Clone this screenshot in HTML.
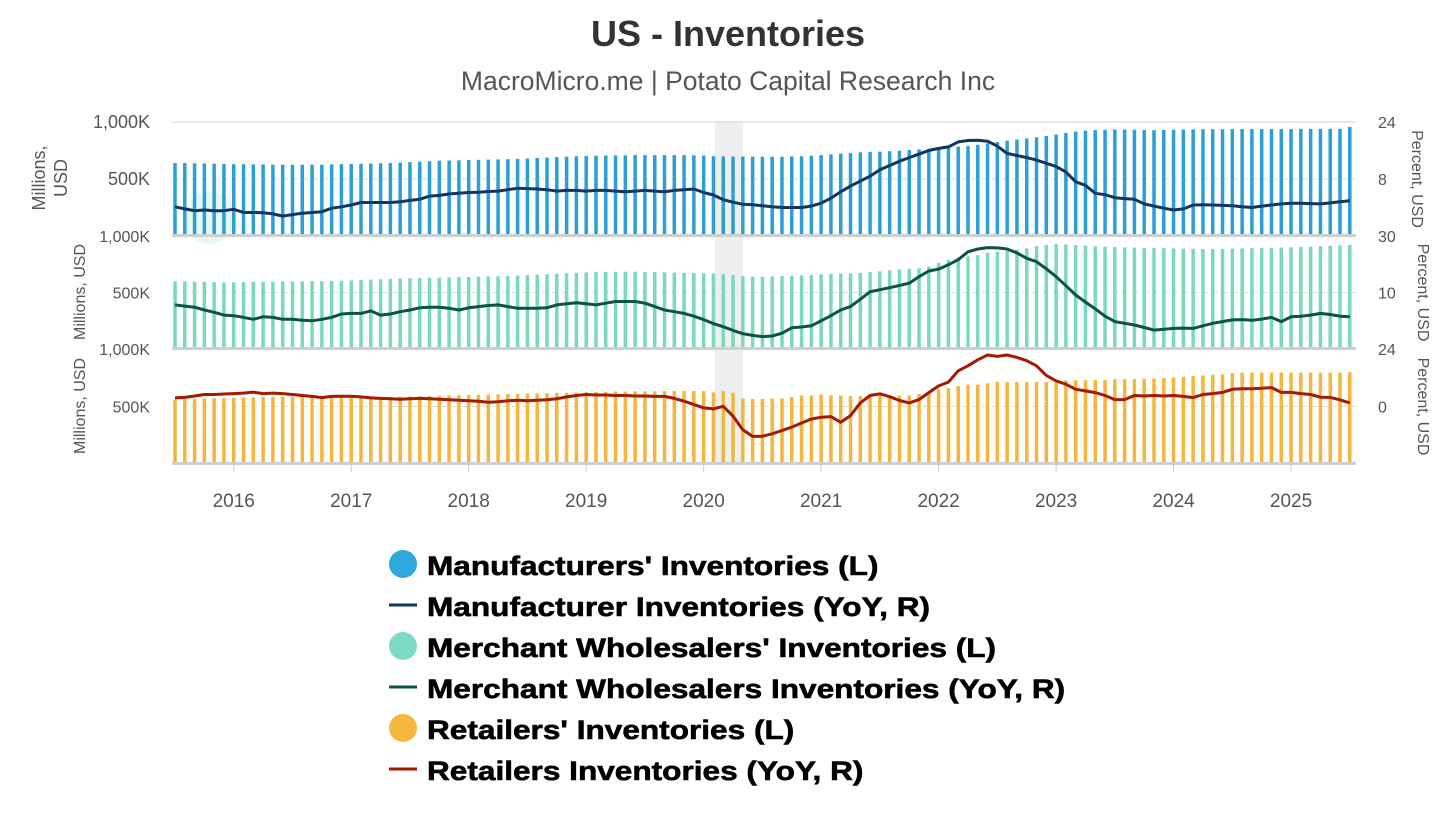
<!DOCTYPE html>
<html><head><meta charset="utf-8">
<style>
html,body{margin:0;padding:0;background:#fff;}
body{width:1456px;height:819px;overflow:hidden;font-family:"Liberation Sans",sans-serif;}
svg text{font-family:"Liberation Sans",sans-serif;}
</style></head>
<body>
<svg id="chart" width="1456" height="819" viewBox="0 0 1456 819" xmlns="http://www.w3.org/2000/svg">
  <text x="728" y="46" text-anchor="middle" font-size="36" font-weight="bold" fill="#333">US - Inventories</text>
  <text x="728" y="90" text-anchor="middle" font-size="26.5" fill="#555">MacroMicro.me | Potato Capital Research Inc</text>
  <rect x="715" y="122" width="28" height="342" fill="#efefef"/>
  <circle cx="210" cy="218" r="26" fill="#dff6ef" opacity="0.8"/>
  <g id="grid"></g>
  <g id="bars"></g>
  <g id="lines"></g>
  <g id="axes"></g>
  <g id="legend"></g>
</svg>
<script>
const years = ["2016","2017","2018","2019","2020","2021","2022","2023","2024","2025"];
const manufBars = [640,640,638,636,634,632,630,630,628,628,626,626,
626,626,626,626,628,630,632,634,636,638,640,644,
648,652,656,660,662,664,666,668,670,672,674,676,
680,684,688,692,696,700,702,704,706,708,708,710,
710,710,710,710,710,708,706,700,698,696,696,696,
696,696,696,698,700,704,710,716,722,728,734,738,
740,744,748,754,760,766,772,778,784,790,800,812,
824,836,846,856,866,878,890,904,916,924,930,932,
934,934,932,930,928,930,932,934,936,936,936,936,
938,938,938,938,938,938,938,940,940,940,940,940,956];
const manufYoY = [0.2,-0.4,-0.9,-0.7,-0.9,-0.9,-0.5,-1.4,-1.4,-1.5,-1.8,-2.4,
-2,-1.6,-1.4,-1.2,-0.2,0.2,0.7,1.4,1.4,1.4,1.4,1.6,
2,2.3,3.2,3.4,3.8,4,4.2,4.3,4.5,4.6,5,5.4,
5.3,5.2,5,4.6,4.8,4.8,4.6,4.8,4.8,4.6,4.4,4.6,
4.8,4.6,4.4,4.8,5,5.2,4.2,3.5,2.2,1.5,0.9,0.8,
0.5,0.2,0,0,0,0.4,1.2,2.6,4.4,6,7.4,8.8,
10.6,11.8,13,14,15,16,16.6,17,18.4,18.8,18.9,18.6,
17.2,15.2,14.6,14,13.3,12.4,11.5,10,7.2,6.2,4.0,3.6,
2.75,2.5,2.3,1.0,0.4,-0.2,-0.7,-0.4,0.7,0.8,0.7,0.6,
0.5,0.2,0,0.4,0.7,1,1.2,1.2,1.1,1,1.3,1.6,1.9];
const wholeBars = [600,598,596,594,592,590,590,592,594,596,596,598,
598,598,600,600,602,604,606,610,614,618,620,624,
626,628,630,632,634,636,638,640,642,644,646,650,
654,658,662,666,670,674,678,680,682,684,684,684,
682,680,678,676,674,672,670,668,664,655,645,640,
640,642,645,648,652,655,660,664,668,670,672,680,
688,696,704,710,714,730,760,790,810,820,830,850,
860,870,880,891,910,920,927,925,920,915,910,905,
903,900,898,896,894,892,890,888,886,885,885,885,
888,890,892,894,896,898,900,902,906,910,914,918,920];
const wholeYoY = [5.6,5.2,4.8,3.8,3,2,1.8,1.2,0.5,1.4,1.2,0.5,
0.5,0.2,0,0.5,1.2,2.4,2.6,2.6,3.5,2,2.4,3.2,
3.8,4.6,4.8,4.8,4.4,3.8,4.6,5,5.4,5.6,5,4.4,
4.4,4.4,4.6,5.6,6,6.4,6,5.6,6.2,6.8,6.8,6.8,
6.2,5,3.8,3.2,2.6,1.6,0.4,-1,-2.1,-3.4,-4.6,-5.2,
-5.6,-5.4,-4.4,-2.5,-2.2,-1.8,0,1.8,3.8,5,7.6,10.3,
11,11.7,12.5,13.3,15.6,17.6,18.3,19.8,21.6,24.4,25.4,25.9,
25.8,25.4,24,22.1,20.9,18.4,15.6,12.4,9.1,6.6,4.2,1.6,
-0.3,-0.9,-1.5,-2.4,-3.3,-3,-2.7,-2.6,-2.7,-1.8,-0.9,-0.3,
0.3,0.4,0.2,0.6,1.2,-0.3,1.4,1.6,2,2.6,2.2,1.6,1.4];
const retailBars = [561,565,568,570,572,574,576,578,580,582,584,585,
585,585,585,584,582,580,580,580,580,582,584,586,
588,590,592,594,596,598,600,602,604,606,608,610,
612,614,616,618,620,622,624,626,628,630,630,632,
632,632,634,634,634,634,634,623,634,619,570,565,
565,570,570,582,596,596,604,596,596,590,590,602,
602,594,596,596,608,630,649,660,678,690,690,702,
713,713,713,713,713,713,708,728,728,728,730,732,
737,738,740,742,744,748,752,758,764,770,776,780,
790,794,795,795,795,795,795,795,795,795,795,795,798];
const retailYoY = [3.6,3.8,4.4,5,5,5.2,5.4,5.6,6,5.4,5.6,5.4,
5,4.6,4.2,3.7,4.2,4.3,4.3,4,3.6,3.4,3.2,3,
3.2,3.4,3.2,3,2.8,2.6,2.4,2.2,1.8,2,2.4,2.6,
2.4,2.6,2.8,3.2,4,4.6,5,4.8,4.8,4.6,4.6,4.4,
4.4,4.2,4.2,3.4,2.2,0.8,-0.6,-1,0.1,-4,-9.7,-12.5,
-12.4,-11.4,-10,-8.6,-6.9,-5.2,-4.5,-4.2,-6.6,-3.8,1.5,4.6,
5.3,4.1,2.5,1.5,2.9,5.8,8.6,10.2,14.9,17,19.5,21.5,
20.9,21.5,20.5,19.1,17,13,10.7,9.3,7.2,6.5,5.8,4.6,
2.9,2.9,4.6,4.4,4.6,4.4,4.6,4.2,3.7,5,5.4,5.9,
7.2,7.4,7.4,7.6,7.9,5.9,5.9,5.4,5,3.9,3.8,2.8,1.5];
const leftTicks = ["1,000K","500K"];
const rightTicks1 = ["24","8"];
const rightTicks2 = ["30","10"];
const rightTicks3 = ["24","0"];

const NS = "http://www.w3.org/2000/svg";
function mk(tag, attrs, parent){const e=document.createElementNS(NS,tag);for(const k in attrs)e.setAttribute(k,attrs[k]);parent.appendChild(e);return e;}
const X0=175, DX=9.79, PL=172, PR=1356;
function xAt(i){return X0+i*DX;}
function yearX(y){return X0+(parseInt(y,10)-2015.5)*12*DX;}
const panels=[
 {top:122,bot:236,rmin:-8,rmax:24,bars:manufBars,yoy:manufYoY,bc:"#2b9fd6",lc:"#0f3560",rt:rightTicks1,rv:[24,8],name:"manufacturers"},
 {top:236,bot:349,rmin:-10,rmax:30,bars:wholeBars,yoy:wholeYoY,bc:"#7ad8bf",lc:"#0a5443",rt:rightTicks2,rv:[30,10],name:"wholesalers"},
 {top:349,bot:464,rmin:-24,rmax:24,bars:retailBars,yoy:retailYoY,bc:"#f4b73b",lc:"#a31a00",rt:rightTicks3,rv:[24,0],name:"retailers"}
];
const grid=document.getElementById('grid'),bars=document.getElementById('bars'),lines=document.getElementById('lines'),axes=document.getElementById('axes');
panels.forEach((p,pi)=>{
  const yL=v=>p.bot-(v/1000)*(p.bot-p.top);
  const yR=v=>p.bot-(v-p.rmin)/(p.rmax-p.rmin)*(p.bot-p.top);
  if(pi===0){const g=mk('line',{x1:PL,x2:PR,y1:p.top,y2:p.top,stroke:"#e0e0e0","stroke-width":1.5},grid);
    
    }
  const gm=mk('line',{x1:PL,x2:PR,y1:yL(500),y2:yL(500),stroke:"#dddddd","stroke-width":1,"stroke-dasharray":"6,4"},grid);
  
  
  p.bars.forEach((v,i)=>{
    const y=yL(v);
    const r=mk('rect',{x:xAt(i)-1.75,y:y,width:3.5,height:p.bot-y,fill:p.bc},bars);
    
    
  });
  const base=mk('rect',{x:PL,y:p.bot-2,width:PR-PL,height:3,fill:"#cfcfcf"},axes);
  
  
  const d=p.yoy.map((v,i)=>(i?'L':'M')+xAt(i).toFixed(1)+' '+yR(v).toFixed(1)).join(' ');
  const path=mk('path',{d:d,fill:"none",stroke:p.lc,"stroke-width":3,"stroke-linejoin":"round"},lines);
  
  
  leftTicks.forEach((t,k)=>{
    const v=k===0?1000:500;
    const tx=mk('text',{x:150,y:yL(v)+6,"text-anchor":"end","font-size":pi===0?18:16,fill:"#555"},axes);
    tx.textContent=t;
    
    
  });
  p.rt.forEach((t,k)=>{
    const tx=mk('text',{x:1378,y:yR(p.rv[k])+6,"font-size":16,fill:"#555"},axes);
    tx.textContent=t;
    
    
  });
  const rt=mk('text',{transform:`translate(${pi===0?1412:1418},${(p.top+p.bot)/2}) rotate(90)`,"text-anchor":"middle","font-size":16,fill:"#555"},axes);
  rt.textContent="Percent, USD";
  
  
});
[["Millions,",45,178,18],["USD",67,178,18],["Millions, USD",85,292,16],["Millions, USD",85,406,16]].forEach(a=>{
  const t=mk('text',{transform:`translate(${a[1]},${a[2]}) rotate(-90)`,"text-anchor":"middle","font-size":a[3],fill:"#555"},axes);
  t.textContent=a[0];
  
  
});
years.forEach(y=>{
  const x=yearX(y);
  const tk=mk('line',{x1:x,x2:x,y1:464,y2:472,stroke:"#ccc","stroke-width":1},axes);
  
  
  const t=mk('text',{x:x,y:507,"text-anchor":"middle","font-size":19,fill:"#555"},axes);
  t.textContent=y;
  
  
});
const legendItems=[["Manufacturers' Inventories (L)","circle","#2ea8dc"],["Manufacturer Inventories (YoY, R)","line","#0f3560"],["Merchant Wholesalers' Inventories (L)","circle","#7fdac3"],["Merchant Wholesalers Inventories (YoY, R)","line","#0a5443"],["Retailers' Inventories (L)","circle","#f5b83d"],["Retailers Inventories (YoY, R)","line","#a31a00"]];
const lg=document.getElementById('legend');
legendItems.forEach((it,k)=>{
  const cy=566+k*41;
  const g=mk('g',{},lg);
  
  
  if(it[1]==="circle") mk('circle',{cx:403,cy:cy-2,r:14,fill:it[2]},g);
  else mk('rect',{x:389,y:cy-3.5,width:28,height:3,fill:it[2]},g);
  const t=mk('text',{transform:`translate(427,${cy+9}) scale(1.17,1)`,"font-size":27,"font-weight":"bold",fill:"#000",stroke:"#000","stroke-width":0.6},g);
  t.textContent=it[0];
});
</script>
</body></html>
